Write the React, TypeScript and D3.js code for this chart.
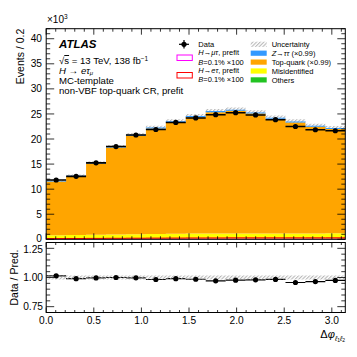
import React from "react";
import * as d3 from "d3";

// 15 bins in delta-phi between the two leptons, 0..pi
const nBins = 15;
const binEdges = d3.range(nBins + 1).map((i) => (i * Math.PI) / nBins);

// events / 1000
const dataEvents = [11.83, 12.55, 15.25, 18.5, 20.8, 21.9, 23.3, 24.2, 24.85, 25.25, 24.8, 23.85, 22.5, 21.85, 21.65];
const others = [0.06, 0.06, 0.06, 0.06, 0.06, 0.06, 0.06, 0.06, 0.06, 0.06, 0.06, 0.06, 0.06, 0.06, 0.06];
const misid = [0.75, 0.8, 0.85, 0.9, 0.95, 1.0, 1.05, 1.1, 1.1, 1.1, 1.1, 1.1, 1.1, 1.1, 1.15];
const topQuark = [10.7, 11.67, 14.21, 17.34, 19.65, 21.02, 22.21, 23.19, 24.19, 24.46, 23.93, 22.9, 22.15, 21.28, 20.8];
const ztautau = [0.15, 0.15, 0.18, 0.2, 0.2, 0.2, 0.22, 0.22, 0.22, 0.22, 0.22, 0.2, 0.2, 0.2, 0.2];
const relUnc = [0.018, 0.018, 0.017, 0.017, 0.017, 0.017, 0.017, 0.017, 0.017, 0.017, 0.017, 0.017, 0.018, 0.018, 0.018];
const sigMuTau = [0.03, 0.03, 0.04, 0.04, 0.05, 0.05, 0.05, 0.05, 0.05, 0.05, 0.05, 0.05, 0.05, 0.05, 0.05];
const sigETau = [0.15, 0.16, 0.18, 0.2, 0.22, 0.24, 0.25, 0.27, 0.28, 0.3, 0.3, 0.3, 0.3, 0.3, 0.3];

const xTicks = [0, 0.5, 1.0, 1.5, 2.0, 2.5, 3.0];
const yTicks = [0, 5, 10, 15, 20, 25, 30, 35, 40];
const ratioTicks = [0.75, 1.0, 1.25];

const layers = [
  { key: "others", values: others, color: "#22c322", label: "Others" },
  { key: "misid", values: misid, color: "#ffff00", label: "Misidentified" },
  { key: "top", values: topQuark, color: "#ffa500", label: "Top-quark (\u00d70.99)" },
  { key: "ztt", values: ztautau, color: "#3399ff", label: "Z\u2192\u03c4\u03c4 (\u00d70.99)" },
];

const font = "'Liberation Sans', Arial, Helvetica, sans-serif";

export default function App() {
  const W = 357;
  const H = 357;
  const L = 46.2;
  const R = 345.3;
  const mainTop = 28.7;
  const mainBot = 239.3;
  const ratTop = 242.5;
  const ratBot = 312.5;
  const tickFont = 10.2;

  const x = d3.scaleLinear().domain([0, Math.PI]).range([L, R]);
  const y = d3.scaleLinear().domain([0, 42]).range([mainBot, mainTop]);
  const yr = d3.scaleLinear().domain([0.7, 1.3]).range([ratBot, ratTop]);

  const rows = d3.range(nBins).map((i) => {
    const o: any = { i };
    layers.forEach((l) => (o[l.key] = l.values[i]));
    return o;
  });
  const stacked = d3.stack().keys(layers.map((l) => l.key))(rows as any);
  const total = rows.map((r) => layers.reduce((s, l) => s + r[l.key], 0));

  // step shapes: point at every edge, last bin repeated
  const edgeIdx = d3.range(nBins + 1);
  const bi = (k: number) => Math.min(k, nBins - 1);

  const area = (lo: (i: number) => number, hi: (i: number) => number, ys: any) =>
    d3
      .area<number>()
      .x((k) => x(binEdges[k]))
      .y0((k) => ys(lo(bi(k))))
      .y1((k) => ys(hi(bi(k))))
      .curve(d3.curveStepAfter)(edgeIdx) as string;

  const stepLine = (vals: number[]) =>
    d3
      .line<number>()
      .x((k) => x(binEdges[k]))
      .y((k) => y(vals[bi(k)]))
      .curve(d3.curveStepAfter)(edgeIdx) as string;

  const ratio = dataEvents.map((d, i) => d / total[i]);

  const xMinor = d3.range(0, 3.15, 0.1);
  const yMinor = d3.range(0, 42.01, 1);
  const rMinor = d3.range(0.7, 1.301, 0.05);

  const tickStroke = { stroke: "#000", strokeWidth: 0.8 };

  const xTickMarks = (top: number, bot: number, maj: number, min: number, id: string) => (
    <g key={id}>
      {xMinor.map((v, i) => {
        const isMaj = Math.abs(v * 2 - Math.round(v * 2)) < 1e-6;
        const len = isMaj ? maj : min;
        return (
          <g key={i}>
            <line x1={x(v)} x2={x(v)} y1={bot} y2={bot - len} {...tickStroke} />
            <line x1={x(v)} x2={x(v)} y1={top} y2={top + len} {...tickStroke} />
          </g>
        );
      })}
    </g>
  );

  const yTickMarks = (vals: number[], isMajor: (v: number) => boolean, sc: any, maj: number, min: number, id: string) => (
    <g key={id}>
      {vals.map((v, i) => {
        const len = isMajor(v) ? maj : min;
        return (
          <g key={i}>
            <line x1={L} x2={L + len} y1={sc(v)} y2={sc(v)} {...tickStroke} />
            <line x1={R} x2={R - len} y1={sc(v)} y2={sc(v)} {...tickStroke} />
          </g>
        );
      })}
    </g>
  );

  const legRowsRight = [
    { label: "Uncertainty", fill: "url(#hatch)" },
    { label: "Z\u2192\u03c4\u03c4 (\u00d70.99)", fill: "#3399ff" },
    { label: "Top-quark (\u00d70.99)", fill: "#ffa500" },
    { label: "Misidentified", fill: "#ffff00" },
    { label: "Others", fill: "#22c322" },
  ];

  return (
    <svg width={W} height={H} style={{ position: "absolute", left: 0, top: 0, background: "#fff" }} fontFamily={font}>
      <defs>
        <pattern id="hatch" patternUnits="userSpaceOnUse" width={2.6} height={2.6} patternTransform="rotate(45)">
          <line x1={0.6} y1={0} x2={0.6} y2={2.6} stroke="#a8a8a8" strokeWidth={0.9} />
        </pattern>
        <clipPath id="mainClip">
          <rect x={L} y={mainTop} width={R - L} height={mainBot - mainTop} />
        </clipPath>
        <clipPath id="ratClip">
          <rect x={L} y={ratTop} width={R - L} height={ratBot - ratTop} />
        </clipPath>
      </defs>

      {/* upper panel */}
      <g clipPath="url(#mainClip)">
        <path d={area((i) => total[i] * (1 - relUnc[i]), (i) => total[i] * (1 + relUnc[i]), y)} fill="url(#hatch)" />
        {stacked.map((s, li) => (
          <path
            key={li}
            d={area((i) => s[i][0], (i) => s[i][1], y)}
            fill={layers[li].color}
          />
        ))}
        <path d={stepLine(sigMuTau)} fill="none" stroke="#ff00ff" strokeWidth={1} />
        <path d={stepLine(sigETau)} fill="none" stroke="#ff0000" strokeWidth={1} />
        {dataEvents.map((d, i) => {
          const cx = x((binEdges[i] + binEdges[i + 1]) / 2);
          const err = Math.sqrt(d * 1000) / 1000;
          return (
            <g key={i}>
              <line x1={x(binEdges[i])} x2={x(binEdges[i + 1])} y1={y(d)} y2={y(d)} stroke="#000" strokeWidth={1.6} />
              <line x1={cx} x2={cx} y1={y(d - err)} y2={y(d + err)} stroke="#000" strokeWidth={1.2} />
              <circle cx={cx} cy={y(d)} r={2.6} fill="#000" />
            </g>
          );
        })}
      </g>

      {xTickMarks(mainTop, mainBot, 6, 3, "mx")}
      {yTickMarks(yMinor, (v) => v % 5 === 0, y, 8, 4, "my")}
      <rect x={L} y={mainTop} width={R - L} height={mainBot - mainTop} fill="none" stroke="#000" strokeWidth={1} />

      {yTicks.map((v) => (
        <text key={v} x={42} y={y(v) + (v === 0 ? 2.4 : 3.6)} textAnchor="end" fontSize={tickFont}>
          {v}
        </text>
      ))}
      <text x={47} y={23} fontSize={10}>
        {"\u00d710"}
        <tspan fontSize={6.5} dy={-4}>3</tspan>
      </text>
      <text transform={`translate(24,${mainTop}) rotate(-90)`} textAnchor="end" fontSize={10.5}>
        Events / 0.2
      </text>

      {/* ATLAS label block */}
      <text x={59} y={47.5} fontSize={11.5} fontWeight="bold" fontStyle="italic">ATLAS</text>
      <text x={59} y={64} fontSize={9.6}>
        {"\u221a"}
        <tspan textDecoration="overline">s</tspan>
        {" = 13 TeV, 138 fb"}
        <tspan fontSize={6.5} dy={-3.5}>{"\u22121"}</tspan>
      </text>
      <text x={59} y={74.1} fontSize={9.6}>
        <tspan fontStyle="italic">H</tspan>
        {" \u2192 "}
        <tspan fontStyle="italic">e</tspan>
        <tspan fontStyle="italic">{"\u03c4"}</tspan>
        <tspan fontStyle="italic" fontSize={6} dy={1.2}>{"\u03bc"}</tspan>
      </text>
      <text x={59} y={84.4} fontSize={9.6}>MC-template</text>
      <text x={59} y={94.4} fontSize={9.6}>non-VBF top-quark CR, prefit</text>

      {/* legend, left column */}
      <line x1={179} x2={189} y1={44.3} y2={44.3} stroke="#000" strokeWidth={1.2} />
      <line x1={184} x2={184} y1={40} y2={48.6} stroke="#000" strokeWidth={1.2} />
      <circle cx={184} cy={44.3} r={2.6} fill="#000" />
      <text x={198.3} y={47} fontSize={7.5}>Data</text>

      <rect x={177} y={55} width={15.3} height={5.5} fill="#fff" stroke="#ff00ff" strokeWidth={1} />
      <text x={198.3} y={55.4} fontSize={7.5}>
        <tspan fontStyle="italic">H</tspan>
        {"\u2192"}
        <tspan fontStyle="italic">{"\u03bc\u03c4"}</tspan>
        {", prefit"}
      </text>
      <text x={198.3} y={64.7} fontSize={7.5}>
        <tspan fontStyle="italic">B</tspan>
        {"=0.1% \u00d7100"}
      </text>
      <rect x={177} y={72.5} width={15.3} height={5.5} fill="#fff" stroke="#ff0000" strokeWidth={1} />
      <text x={198.3} y={73.4} fontSize={7.5}>
        <tspan fontStyle="italic">H</tspan>
        {"\u2192"}
        <tspan fontStyle="italic">{"e\u03c4"}</tspan>
        {", prefit"}
      </text>
      <text x={198.3} y={82.4} fontSize={7.5}>
        <tspan fontStyle="italic">B</tspan>
        {"=0.1% \u00d7100"}
      </text>

      {/* legend, right column */}
      {legRowsRight.map((r, i) => {
        const cy = 44.3 + i * 8.9;
        return (
          <g key={i}>
            <rect x={250.7} y={cy - 2.6} width={16} height={5.2} fill={r.fill} />
            <text x={271.7} y={cy + 2.7} fontSize={7.5}>
              {i === 1 ? (
                <>
                  <tspan fontStyle="italic">Z</tspan>
                  {"\u2192"}
                  <tspan fontStyle="italic">{"\u03c4\u03c4"}</tspan>
                  {" (\u00d70.99)"}
                </>
              ) : (
                r.label
              )}
            </text>
          </g>
        );
      })}

      {/* ratio panel */}
      <g clipPath="url(#ratClip)">
        {ratio.map((r, i) => (
          <line key={i} x1={x(binEdges[i])} x2={x(binEdges[i + 1])} y1={yr(r)} y2={yr(r)} stroke="#000" strokeWidth={1.2} />
        ))}
        <path d={area((i) => 1 - relUnc[i], (i) => 1 + relUnc[i], yr)} fill="url(#hatch)" />
        {ratio.map((r, i) => {
          const cx = x((binEdges[i] + binEdges[i + 1]) / 2);
          return <circle key={i} cx={cx} cy={yr(r)} r={2.6} fill="#000" />;
        })}
      </g>
      {xTickMarks(ratTop, ratBot, 5, 2.5, "rx")}
      {yTickMarks(rMinor, (v) => ratioTicks.some((t) => Math.abs(t - v) < 1e-6), yr, 8, 4, "ry")}
      <rect x={L} y={ratTop} width={R - L} height={ratBot - ratTop} fill="none" stroke="#000" strokeWidth={1} />

      {ratioTicks.map((v) => (
        <text key={v} x={43} y={yr(v) + (v === 1.25 ? 4.9 : 3.6)} textAnchor="end" fontSize={tickFont}>
          {v.toFixed(2)}
        </text>
      ))}
      <text transform={`translate(18,${(ratTop + ratBot) / 2}) rotate(-90)`} textAnchor="middle" fontSize={10.5}>
        Data / Pred.
      </text>

      {xTicks.map((v) => (
        <text key={v} x={x(v)} y={324} textAnchor="middle" fontSize={tickFont}>
          {v.toFixed(1)}
        </text>
      ))}
      <text x={345} y={338} textAnchor="end" fontSize={11}>
        {"\u0394"}
        <tspan fontStyle="italic">{"\u03c6"}</tspan>
        <tspan fontStyle="italic" fontSize={7} dy={2.5}>{"\u2113"}</tspan>
        <tspan fontSize={5} dy={1.2}>1</tspan>
        <tspan fontStyle="italic" fontSize={7} dy={-1.2}>{"\u2113"}</tspan>
        <tspan fontSize={5} dy={1.2}>2</tspan>
      </text>
    </svg>
  );
}
